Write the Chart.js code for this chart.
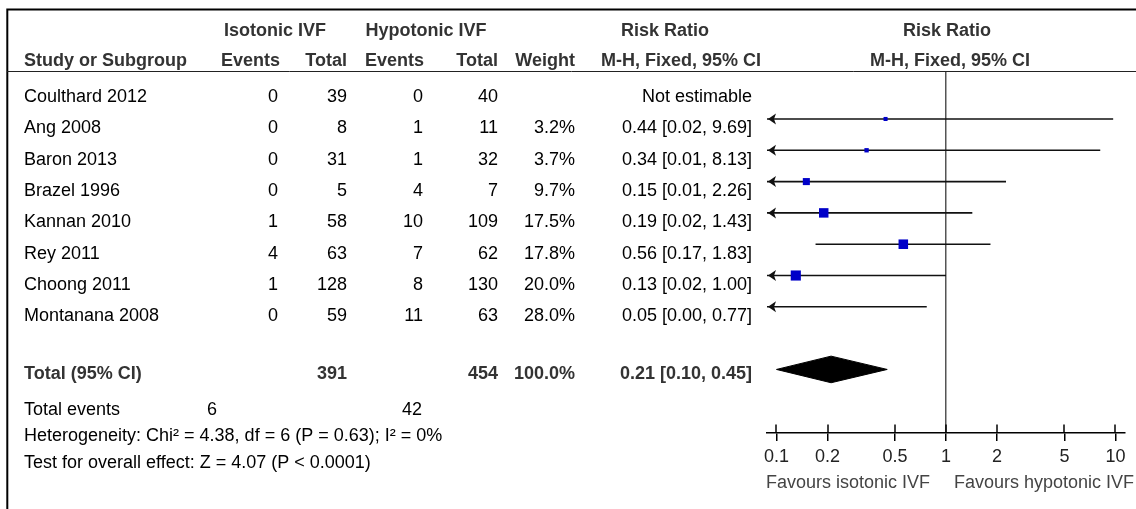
<!DOCTYPE html>
<html><head><meta charset="utf-8">
<script src="https://cdn.jsdelivr.net/npm/chart.js@4.4.1/dist/chart.umd.min.js"></script>
<style>html,body{margin:0;padding:0;background:#fff;overflow:hidden}canvas{display:block}</style>
</head><body>
<canvas id="c" width="1136" height="509"></canvas>
<script>
// ---- data ----
const studies = ['Coulthard 2012','Ang 2008','Baron 2013','Brazel 1996','Kannan 2010','Rey 2011','Choong 2011','Montanana 2008'];
const isoEvents = [0,0,0,0,1,4,1,0];
const isoTotal = [39,8,31,5,58,63,128,59];
const hypoEvents = [0,1,1,4,10,7,8,11];
const hypoTotal = [40,11,32,7,109,62,130,63];
const weights = [null,3.2,3.7,9.7,17.5,17.8,20.0,28.0];
const riskRatio = [null,0.44,0.34,0.15,0.19,0.56,0.13,0.05];
const ciLow = [null,0.02,0.01,0.01,0.02,0.17,0.02,0.00];
const ciHigh = [null,9.69,8.13,2.26,1.43,1.83,1.00,0.77];
const pooled = [0.21,0.10,0.45]; // estimate, low, high
const pooledWeight = '100.0%';
const xTicks = [0.1,0.2,0.5,1,2,5,10];
const heterogeneityText = 'Heterogeneity: Chi² = 4.38, df = 6 (P = 0.63); I² = 0%';
const overallText = 'Test for overall effect: Z = 4.07 (P < 0.0001)';
const favoursLeft = 'Favours isotonic IVF';
const favoursRight = 'Favours hypotonic IVF';

// ---- config ----
const FONT = '"Liberation Sans", Arial, Helvetica, sans-serif';
const FS = 18;
const X_MIN = 0.0879, X_MAX = 11.38;
const TOTAL_ROW = 9;
const DIAMOND_H = 0.425;
const sum = a => a.reduce((s,v)=>s+v,0);

const datasets = [];
// study squares
datasets.push({
  type:'line', showLine:false, order:0,
  data: studies.map((s,i)=> riskRatio[i]==null ? null : {x:riskRatio[i], y:i}).filter(d=>d),
  pointStyle:'rect',
  pointRadius: ctx => { const w = weights.filter((v,i)=>riskRatio[i]!=null)[ctx.dataIndex]; return 1.6*Math.sqrt(w); },
  pointBackgroundColor:'#0000C8', pointBorderWidth:0, pointBorderColor:'#0000C8'
});
// CI lines
studies.forEach((s,i)=>{
  if (riskRatio[i]==null) return;
  datasets.push({
    type:'line', order:1,
    data:[{x:Math.max(ciLow[i],X_MIN), y:i},{x:Math.min(ciHigh[i],X_MAX), y:i}],
    borderColor:'#111', borderWidth:1.6, pointRadius:0, fill:false
  });
});
// pooled diamond (upper and lower halves, filled between)
datasets.push({
  type:'line', order:1,
  data:[{x:pooled[1],y:TOTAL_ROW},{x:pooled[0],y:TOTAL_ROW-DIAMOND_H},{x:pooled[2],y:TOTAL_ROW}],
  borderColor:'#000', borderWidth:1, pointRadius:0, fill:false, tension:0
});
datasets.push({
  type:'line', order:1,
  data:[{x:pooled[1],y:TOTAL_ROW},{x:pooled[0],y:TOTAL_ROW+DIAMOND_H},{x:pooled[2],y:TOTAL_ROW}],
  borderColor:'#000', borderWidth:1, pointRadius:0, fill:'-1', backgroundColor:'#000', tension:0
});

function txt(ctx, s, x, y, align, bold, color){
  ctx.font = (bold?'bold ':'') + FS + 'px ' + FONT;
  ctx.textAlign = align; ctx.textBaseline = 'alphabetic';
  ctx.fillStyle = color || '#000';
  ctx.fillText(s, x, y);
}

const tablePlugin = {
  id:'table',
  afterDraw(chart){
    const ctx = chart.ctx, ys = chart.scales.y, xs = chart.scales.x, area = chart.chartArea;
    ctx.save();
    // frame
    ctx.strokeStyle = '#000'; ctx.lineWidth = 2;
    ctx.beginPath(); ctx.moveTo(7.3, 509); ctx.lineTo(7.3, 9.5); ctx.lineTo(1136, 9.5); ctx.stroke();
    ctx.lineWidth = 1; ctx.strokeStyle = '#222';
    ctx.beginPath(); ctx.moveTo(7, 71.5); ctx.lineTo(1136, 71.5); ctx.stroke();

    const H = '#333';
    // header row 1
    txt(ctx,'Isotonic IVF',275,36,'center',true,H);
    txt(ctx,'Hypotonic IVF',426,36,'center',true,H);
    txt(ctx,'Risk Ratio',665,36,'center',true,H);
    txt(ctx,'Risk Ratio',947,36,'center',true,H);
    // header row 2
    txt(ctx,'Study or Subgroup',24,66,'left',true,H);
    txt(ctx,'Events',280,66,'right',true,H);
    txt(ctx,'Total',347,66,'right',true,H);
    txt(ctx,'Events',424,66,'right',true,H);
    txt(ctx,'Total',498,66,'right',true,H);
    txt(ctx,'Weight',575,66,'right',true,H);
    txt(ctx,'M-H, Fixed, 95% CI',681,66,'center',true,H);
    txt(ctx,'M-H, Fixed, 95% CI',950,66,'center',true,H);

    // study rows
    studies.forEach((s,i)=>{
      const y = ys.getPixelForValue(i) + 14.3;
      txt(ctx,s,24,y,'left');
      txt(ctx,String(isoEvents[i]),278,y,'right');
      txt(ctx,String(isoTotal[i]),347,y,'right');
      txt(ctx,String(hypoEvents[i]),423,y,'right');
      txt(ctx,String(hypoTotal[i]),498,y,'right');
      if (weights[i]!=null) txt(ctx,weights[i].toFixed(1)+'%',575,y,'right');
      const r = riskRatio[i]==null ? 'Not estimable'
        : riskRatio[i].toFixed(2)+' ['+ciLow[i].toFixed(2)+', '+ciHigh[i].toFixed(2)+']';
      txt(ctx,r,752,y,'right');
      // arrowheads for truncated CIs
      if (riskRatio[i]!=null && ciLow[i] < X_MIN){
        const tx = xs.getPixelForValue(X_MIN) + 1, ty = ys.getPixelForValue(i);
        ctx.fillStyle = '#111';
        ctx.beginPath(); ctx.moveTo(tx,ty); ctx.lineTo(tx+8,ty-5.5); ctx.lineTo(tx+6,ty); ctx.lineTo(tx+8,ty+5.5); ctx.closePath(); ctx.fill();
      }
    });

    // total row
    const ty = ys.getPixelForValue(TOTAL_ROW) + 9.5;
    txt(ctx,'Total (95% CI)',24,ty,'left',true,H);
    txt(ctx,String(sum(isoTotal)),347,ty,'right',true,H);
    txt(ctx,String(sum(hypoTotal)),498,ty,'right',true,H);
    txt(ctx,pooledWeight,575,ty,'right',true,H);
    txt(ctx,pooled[0].toFixed(2)+' ['+pooled[1].toFixed(2)+', '+pooled[2].toFixed(2)+']',752,ty,'right',true,H);

    txt(ctx,'Total events',24,415,'left');
    txt(ctx,String(sum(isoEvents)),217,415,'right');
    txt(ctx,String(sum(hypoEvents)),422,415,'right');
    txt(ctx,heterogeneityText,24,441,'left');
    txt(ctx,overallText,24,468,'left');

    // upper half of axis tick marks
    const axY = area.bottom;
    ctx.strokeStyle = '#000'; ctx.lineWidth = 1.5;
    xTicks.forEach(v=>{
      const px = Math.round(xs.getPixelForValue(v));
      ctx.beginPath(); ctx.moveTo(px, axY-8.5); ctx.lineTo(px, axY); ctx.stroke();
    });
    // favours labels
    txt(ctx,favoursLeft,930,488,'right',false,'#444');
    txt(ctx,favoursRight,954,488,'left',false,'#444');
    ctx.restore();
  }
};

new Chart(document.getElementById('c'), {
  type:'line',
  data:{datasets},
  options:{
    responsive:false, animation:false, events:[],
    layout:{padding:{left:767,right:11,top:72,bottom:0}},
    plugins:{legend:{display:false},tooltip:{enabled:false}},
    scales:{
      x:{
        type:'logarithmic', min:X_MIN, max:X_MAX, bounds:'data',
        afterBuildTicks: sc => { sc.ticks = xTicks.map(v=>({value:v})); },
        afterFit: sc => { sc.height = 76; },
        ticks:{ autoSkip:false, maxRotation:0, padding:5, color:'#222',
          font:{family:FONT,size:FS}, callback: v => String(v) },
        grid:{ drawOnChartArea:true, tickLength:8, tickWidth:1.5, tickColor:'#000',
          color: c => (c.tick && c.tick.value===1) ? '#555' : 'rgba(0,0,0,0)', lineWidth:1.5 },
        border:{ display:true, color:'#000', width:1.5 }
      },
      y:{
        type:'linear', reverse:true, min:-0.5, max:11.03, display:false
      }
    }
  },
  plugins:[tablePlugin]
});
</script>
</body></html>
